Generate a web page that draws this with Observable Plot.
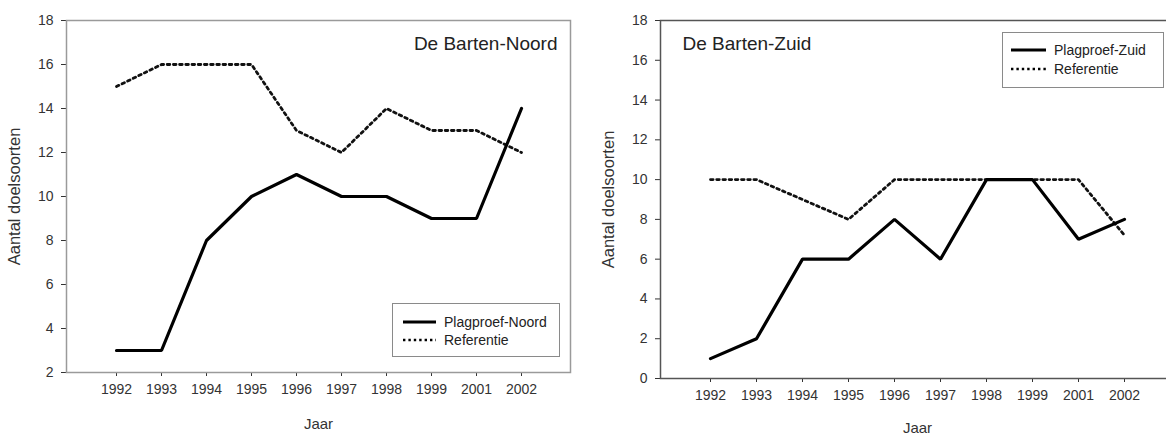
<!DOCTYPE html>
<html>
<head>
<meta charset="utf-8">
<script src="https://cdn.jsdelivr.net/npm/d3@7"></script>
<script src="https://cdn.jsdelivr.net/npm/@observablehq/plot@0.6"></script>
<style>
  html, body { margin: 0; padding: 0; background: #fff; overflow: hidden; }
  #wrap { position: relative; width: 1166px; height: 435px; overflow: hidden; display: flex; }
  #wrap > svg, #wrap > figure { flex-shrink: 0; }
  #wrap svg [aria-label="y-axis label"] { font-size: 16.5px; }
  #wrap svg [aria-label="x-axis label"] { font-size: 15px; }
  .legend { position: absolute; background: #fff; border: 1px solid #8a8a8a; box-sizing: border-box;
            font-family: "Liberation Sans", Arial, sans-serif; font-size: 14px; color: #222; }
  .legend .row { position: absolute; display: flex; align-items: center; white-space: nowrap; }
  .legend svg { display: block; margin-right: 8px; }
</style>
</head>
<body>
<div id="wrap"></div>
<script>
// ---- data ----
const years = ["1992","1993","1994","1995","1996","1997","1998","1999","2001","2002"];
const noordPlagproef = [3, 3, 8, 10, 11, 10, 10, 9, 9, 14];
const noordReferentie = [15, 16, 16, 16, 13, 12, 14, 13, 13, 12];
const zuidPlagproef = [1, 2, 6, 6, 8, 6, 10, 10, 7, 8];
const zuidReferentie = [10, 10, 9, 8, 10, 10, 10, 10, 10, 7.2];
const noordYTicks = [2, 4, 6, 8, 10, 12, 14, 16, 18];
const zuidYTicks = [0, 2, 4, 6, 8, 10, 12, 14, 16, 18];
const titles = ["De Barten-Noord", "De Barten-Zuid"];
const legendNoord = ["Plagproef-Noord", "Referentie"];
const legendZuid = ["Plagproef-Zuid", "Referentie"];
const xLabel = "Jaar";
const yLabel = "Aantal doelsoorten";

const font = "'Liberation Sans', Arial, sans-serif";
const rows = (vals) => years.map((y, i) => ({year: y, value: vals[i]}));

function chart({plag, ref, yDomain, yTicks, title, titleAnchor, titleDx, width, ml, mr, mb, frameColor, labelOffsetY, labelOffsetX}) {
  return Plot.plot({
    width, height: 435,
    marginLeft: ml, marginRight: mr, marginTop: 20, marginBottom: mb,
    style: {fontFamily: font, fontSize: "14px", color: "#333", background: "#fff"},
    x: {type: "point", domain: years, padding: 1, label: xLabel, labelAnchor: "center", labelArrow: "none",
        tickSize: 4, tickPadding: 8, labelOffset: labelOffsetX},
    y: {domain: yDomain, ticks: yTicks, label: yLabel, labelAnchor: "center", labelArrow: "none",
        tickSize: 5, tickPadding: 8, labelOffset: labelOffsetY},
    marks: [
      Plot.frame({stroke: frameColor, strokeWidth: 1.5}),
      Plot.line(rows(ref), {x: "year", y: "value", stroke: "#111", strokeWidth: 2.8, strokeDasharray: "2.6,3.6", strokeLinejoin: "miter"}),
      Plot.line(rows(plag), {x: "year", y: "value", stroke: "#000", strokeWidth: 3.2, strokeLinejoin: "miter"}),
      Plot.text([title], {frameAnchor: titleAnchor, dx: titleDx, dy: 16, lineAnchor: "top",
                          fontSize: 19, fill: "#222"})
    ]
  });
}

const wrap = document.getElementById("wrap");
const left = chart({plag: noordPlagproef, ref: noordReferentie, yDomain: [2, 18], yTicks: noordYTicks,
  title: titles[0], titleAnchor: "top-right", titleDx: -13, width: 580, ml: 66, mr: 10, mb: 63,
  frameColor: "#9a9a9a", labelOffsetY: 58, labelOffsetX: 56});
const right = chart({plag: zuidPlagproef, ref: zuidReferentie, yDomain: [0, 18], yTicks: zuidYTicks,
  title: titles[1], titleAnchor: "top-left", titleDx: 22, width: 600, ml: 80, mr: 6, mb: 57,
  frameColor: "#555", labelOffsetY: 58, labelOffsetX: 54});
wrap.appendChild(left);
wrap.appendChild(right);

function legend(labels, box) {
  const d = document.createElement("div");
  d.className = "legend";
  Object.assign(d.style, {left: box.left + "px", top: box.top + "px", width: box.w + "px", height: box.h + "px"});
  labels.forEach((lab, i) => {
    const r = document.createElement("div");
    r.className = "row";
    r.style.left = box.padL + "px";
    r.style.top = (box.rowTop + i * box.rowGap) + "px";
    const dash = i === 0 ? "" : "stroke-dasharray='2.4,3'";
    const sw = i === 0 ? 3 : 2.4;
    r.innerHTML = `<svg width="${box.lineW}" height="10"><line x1="0" y1="5" x2="${box.lineW}" y2="5" stroke="#000" stroke-width="${sw}" ${dash}/></svg><span>${lab}</span>`;
    d.appendChild(r);
  });
  wrap.appendChild(d);
}
legend(legendNoord, {left: 392, top: 303, w: 168, h: 54, padL: 10, rowTop: 10, rowGap: 18, lineW: 33});
legend(legendZuid, {left: 1002, top: 32, w: 162, h: 56, padL: 8, rowTop: 9, rowGap: 19, lineW: 35});
</script>
</body>
</html>
